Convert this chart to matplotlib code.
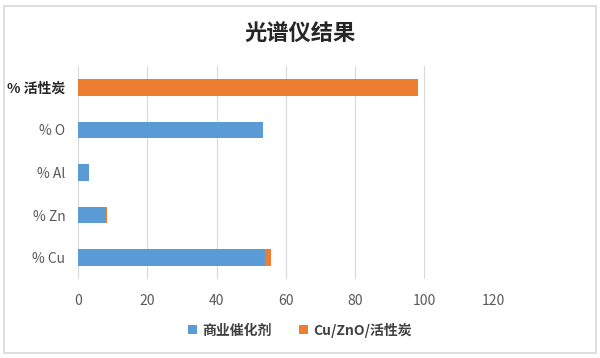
import matplotlib
matplotlib.use("Agg")
from matplotlib import pyplot as plt
from matplotlib.patches import Rectangle

plt.rcParams['font.family'] = ['Noto Sans CJK SC', 'DejaVu Sans']

categories = ["% Cu", "% Zn", "% Al", "% O", "% 活性炭"]
commercial = [54.1, 8.0, 3.2, 53.3, 0.0]
cu_zno_c = [1.6, 0.3, 0.0, 0.0, 98.0]
series_names = ["商业催化剂", "Cu/ZnO/活性炭"]
xticks = [0, 20, 40, 60, 80, 100, 120]

fig = plt.figure(figsize=(6, 3.58), dpi=100)
ax = fig.add_axes([0.13, 0.2207, 0.693, 0.595])

ypos = range(len(categories))
ax.barh(ypos, commercial, height=0.39, color='#5B9BD5', label=series_names[0], zorder=3)
ax.barh(ypos, cu_zno_c, height=0.39, left=commercial, color='#ED7D31', label=series_names[1], zorder=3)

ax.set_xlim(0, 120)
ax.set_ylim(-0.5, len(categories) - 0.5)
ax.set_xticks(xticks)
ax.set_xticklabels([str(t) for t in xticks])
ax.set_yticks(list(ypos))
ax.set_yticklabels(categories)
ax.tick_params(axis='both', length=0, colors='#595959', labelsize=10)
ax.tick_params(axis='x', pad=11)
ax.tick_params(axis='y', pad=9)
ax.grid(axis='x', color='#d9d9d9', linewidth=0.8, zorder=0)
for s in ax.spines.values():
    s.set_visible(False)
ax.get_yticklabels()[-1].set_color('#262626')
ax.get_yticklabels()[-1].set_fontweight('bold')

fig.suptitle("光谱仪结果", x=0.5, y=0.935, fontsize=16, fontweight='bold', color='#262626')

leg = fig.legend(loc='center', bbox_to_anchor=(0.5, 0.078), ncol=2, frameon=False,
                 handlelength=0.6, handleheight=0.6, columnspacing=2.0, handletextpad=0.4,
                 prop={'size': 10, 'weight': 'bold'})
for t in leg.get_texts():
    t.set_color('#404040')

fig.patches.append(Rectangle((0.006, 0.014), 0.988, 0.968, transform=fig.transFigure,
                             fill=False, edgecolor='#d9d9d9', linewidth=1.2))

fig.savefig("out.png", dpi=100, facecolor='white')
